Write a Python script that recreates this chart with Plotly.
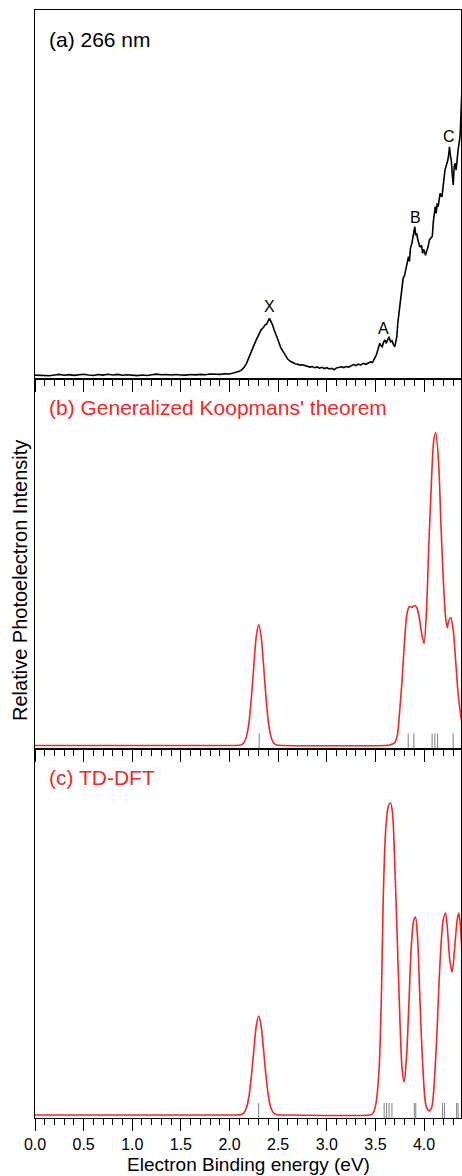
import plotly.graph_objects as go

# ---------------- data ----------------
# (a) experimental photoelectron spectrum, 266 nm (arbitrary units)
exp_energy = [0.00, 0.05, 0.10, 0.15, 0.20, 0.25, 0.30, 0.35, 0.40, 0.45, 0.50, 0.55, 0.60, 0.65,
              0.70, 0.75, 0.80, 0.85, 0.90, 0.95, 1.00, 1.05, 1.10, 1.15, 1.20, 1.25, 1.30, 1.35,
              1.40, 1.45, 1.50, 1.55, 1.60, 1.65, 1.70, 1.75, 1.80, 1.85, 1.90, 1.95, 2.00,
              2.04, 2.075, 2.10, 2.125, 2.15, 2.175, 2.20, 2.225, 2.25, 2.275, 2.30, 2.325, 2.35,
              2.365, 2.38, 2.395, 2.41, 2.425, 2.44, 2.46, 2.48, 2.50, 2.525, 2.55, 2.575, 2.60,
              2.625, 2.65, 2.675, 2.70, 2.725, 2.75, 2.775, 2.80, 2.825, 2.85, 2.875, 2.90, 2.925,
              2.95, 2.975, 3.00, 3.025, 3.05, 3.075, 3.10, 3.125, 3.15, 3.175, 3.20, 3.225, 3.25,
              3.275, 3.30, 3.325, 3.35, 3.375, 3.40, 3.425, 3.45, 3.47, 3.49, 3.51, 3.53, 3.545,
              3.555, 3.57, 3.585, 3.60, 3.61, 3.625, 3.64, 3.655, 3.67, 3.685, 3.70, 3.71, 3.72,
              3.73, 3.745, 3.76, 3.775, 3.785, 3.80, 3.815, 3.83, 3.84, 3.85, 3.86, 3.875, 3.885,
              3.895, 3.905, 3.915, 3.925, 3.935, 3.945, 3.955, 3.965, 3.975, 3.985, 3.995, 4.005,
              4.015, 4.025, 4.04, 4.055, 4.07, 4.085, 4.095, 4.105, 4.115, 4.125, 4.135, 4.145,
              4.155, 4.165, 4.175, 4.185, 4.195, 4.205, 4.215, 4.225, 4.235, 4.245, 4.255, 4.262,
              4.27, 4.28, 4.29, 4.30, 4.31, 4.32, 4.33, 4.34, 4.35, 4.36, 4.37, 4.375, 4.38,
              4.385, 4.39]
exp_signal = [4.2, 4.0, 4.3, 3.6, 4.4, 4.9, 4.1, 4.7, 4.0, 4.6, 5.1, 4.3, 3.9, 4.8,
              4.2, 5.0, 4.4, 4.9, 4.1, 4.6, 4.0, 3.7, 4.3, 3.9, 4.5, 5.2, 4.6, 4.9,
              4.3, 4.8, 4.4, 4.2, 4.9, 4.5, 5.0, 4.6, 5.3, 4.9, 5.0, 5.6, 5.4,
              6.3, 7.0, 8.0, 9.5, 12.0, 16.0, 22.5, 28.0, 34.0, 39.5, 45.0, 49.5, 52.0,
              54.5, 55.0, 58.5, 61.0, 58.0, 55.0, 49.0, 43.0, 39.0, 32.0, 27.5, 23.0, 20.0,
              18.0, 16.5, 15.5, 15.0, 14.2, 14.5, 13.6, 13.0, 12.2, 12.8, 11.6, 12.4, 11.2,
              12.0, 10.8, 11.6, 10.4, 11.0, 9.6, 11.4, 12.0, 12.6, 11.8, 12.8, 12.2, 13.6,
              14.8, 13.8, 15.2, 14.4, 16.0, 15.0, 16.6, 17.4, 16.8, 21.0, 24.5, 31.0, 36.0,
              34.0, 32.6, 37.5, 39.3, 36.0, 40.5, 42.6, 37.5, 38.5, 35.0, 32.6, 38.0, 42.6,
              56.0, 69.0, 78.0, 96.0, 101.0, 104.0, 110.0, 119.0, 122.6, 118.0, 131.0, 136.0, 141.0,
              146.0, 152.6, 144.0, 146.0, 140.0, 134.3, 133.0, 132.6, 134.0, 126.0, 130.0, 127.6,
              124.0, 127.6, 132.0, 139.3, 141.0, 143.0, 157.0, 166.0, 172.6, 166.0, 176.0, 172.6,
              183.0, 186.0, 183.5, 182.6, 192.0, 205.0, 209.0, 212.6, 216.0, 219.3, 226.0, 232.6,
              224.0, 219.3, 205.0, 194.3, 213.0, 216.0, 209.3, 222.0, 229.3, 236.0, 242.6, 252.6, 272.0,
              289.3, 291.0]

# (b) Generalized Koopmans' theorem, broadened spectrum
gkt_energy = [0.00, 2.05, 2.10, 2.125, 2.15, 2.175, 2.20, 2.225, 2.25, 2.275, 2.30, 2.325, 2.35,
              2.375, 2.40, 2.425, 2.45, 2.475, 2.50, 2.55, 3.60, 3.65, 3.675, 3.70, 3.725, 3.75,
              3.775, 3.80, 3.825, 3.85, 3.875, 3.90, 3.925, 3.95, 3.975, 4.00, 4.025, 4.05, 4.075,
              4.10, 4.12, 4.15, 4.175, 4.20, 4.225, 4.24, 4.25, 4.275, 4.30, 4.325, 4.35, 4.375, 4.39]
gkt_intensity = [0, 0, 0.2, 0.8, 2.9, 9.1, 23, 48, 80, 109, 121, 109, 80,
                 48, 23, 9.1, 2.9, 0.8, 0.2, 0, 0, 0.5, 1.5, 3, 10, 35,
                 67, 105, 132, 139, 138, 140, 138, 128, 112, 102, 135, 202, 262,
                 305, 313, 282, 218, 162, 125, 118, 123, 128, 115, 85, 52, 32, 22]
gkt_sticks = [2.305, 3.837, 3.895, 4.083, 4.111, 4.139, 4.299]

# (c) TD-DFT, broadened spectrum
tddft_energy = [0.00, 2.05, 2.10, 2.125, 2.15, 2.175, 2.20, 2.225, 2.25, 2.275, 2.30, 2.325, 2.35,
                2.375, 2.40, 2.425, 2.45, 2.475, 2.50, 2.55, 3.44, 3.47, 3.49, 3.511, 3.539, 3.563,
                3.58, 3.604, 3.631, 3.655, 3.676, 3.70, 3.724, 3.751, 3.775, 3.796, 3.82, 3.847,
                3.871, 3.895, 3.912, 3.933, 3.957, 3.984, 4.015, 4.04, 4.06, 4.08, 4.094, 4.128,
                4.162, 4.197, 4.221, 4.241, 4.265, 4.289, 4.313, 4.341, 4.358, 4.375, 4.388]
tddft_intensity = [0, 0, 0.1, 0.6, 2.4, 7.5, 19, 39, 65, 89, 99, 89, 65,
                   39, 19, 7.5, 2.4, 0.6, 0.1, 0, 0, 1, 5, 15, 48, 125,
                   215, 282, 308, 312, 302, 248, 178, 98, 45, 33, 58, 118,
                   172, 195, 198, 178, 118, 55, 12, 5, 4, 8, 18, 72,
                   148, 195, 202, 185, 155, 143, 165, 195, 202, 188, 165]
tddft_sticks = [2.30, 3.59, 3.615, 3.64, 3.67, 3.90, 3.915, 4.19, 4.21, 4.335, 4.35]

peak_labels = ["X", "A", "B", "C"]
peak_label_energy = [2.409, 3.581, 3.907, 4.259]
peak_label_signal = [72.6, 51.0, 162.0, 243.3]

x_tick_vals = [0.0, 0.5, 1.0, 1.5, 2.0, 2.5, 3.0, 3.5, 4.0]
x_tick_text = ["0.0", "0.5", "1.0", "1.5", "2.0", "2.5", "3.0", "3.5", "4.0"]

# ---------------- style ----------------
FONT = "Arial, Liberation Sans, Helvetica, sans-serif"
RED = "#f02828"
STICK_TOP = 12

def sticks_xy(energies, base):
    xs, ys = [], []
    for e in energies:
        xs += [e, e, None]
        ys += [base, STICK_TOP, None]
    return xs, ys

fig = go.Figure()

fig.add_trace(go.Scatter(x=exp_energy, y=exp_signal, mode="lines",
                         line=dict(color="black", width=1.6),
                         xaxis="x", yaxis="y", showlegend=False, hoverinfo="skip"))

sx, sy = sticks_xy(gkt_sticks, -3.2)
fig.add_trace(go.Scatter(x=sx, y=sy, mode="lines", line=dict(color="#808080", width=1),
                         xaxis="x2", yaxis="y2", showlegend=False, hoverinfo="skip"))
fig.add_trace(go.Scatter(x=gkt_energy, y=gkt_intensity, mode="lines",
                         line=dict(color=RED, width=1.6, shape="spline", smoothing=0.8),
                         xaxis="x2", yaxis="y2", showlegend=False))

sx, sy = sticks_xy(tddft_sticks, -3.0)
fig.add_trace(go.Scatter(x=sx, y=sy, mode="lines", line=dict(color="#808080", width=1),
                         xaxis="x3", yaxis="y3", showlegend=False, hoverinfo="skip"))
fig.add_trace(go.Scatter(x=tddft_energy, y=tddft_intensity, mode="lines",
                         line=dict(color=RED, width=1.6, shape="spline", smoothing=0.8),
                         xaxis="x3", yaxis="y3", showlegend=False))

def xaxis_cfg(anchor, labels):
    return dict(range=[0, 4.38], anchor=anchor, showline=True, linecolor="black", linewidth=1,
                mirror=True, showgrid=False, zeroline=False,
                tickmode="array", tickvals=x_tick_vals, ticktext=x_tick_text,
                ticks="outside", ticklen=12, tickwidth=1, tickcolor="black",
                minor=dict(dtick=0.1, ticks="outside", ticklen=6, tickwidth=1, tickcolor="black", showgrid=False),
                showticklabels=labels, tickfont=dict(family=FONT, size=16, color="black"))

def yaxis_cfg(anchor, dom, rng):
    return dict(domain=dom, range=rng, anchor=anchor, showline=True, linecolor="black", linewidth=1,
                mirror=True, showgrid=False, zeroline=False, ticks="", showticklabels=False)

fig.update_layout(
    width=462, height=1176,
    margin=dict(l=35, r=1, t=10, b=58),
    paper_bgcolor="white", plot_bgcolor="white",
    font=dict(family=FONT, color="black"),
    xaxis=xaxis_cfg("y", False),
    xaxis2=xaxis_cfg("y2", False),
    xaxis3=xaxis_cfg("y3", True),
    yaxis=yaxis_cfg("x", [2/3, 1], [0, 369.3]),
    yaxis2=yaxis_cfg("x2", [1/3, 2/3], [-3.2, 366.1]),
    yaxis3=yaxis_cfg("x3", [0, 1/3], [-3.0, 366.3]),
)

ann = []
ann.append(dict(text="(a) 266 nm", x=0.028, y=0.9738, xref="paper", yref="paper",
                xanchor="left", yanchor="middle", showarrow=False,
                font=dict(family=FONT, size=21, color="black")))
ann.append(dict(text="(b) Generalized Koopmans' theorem", x=0.028, y=0.6408, xref="paper", yref="paper",
                xanchor="left", yanchor="middle", showarrow=False,
                font=dict(family=FONT, size=21, color=RED)))
ann.append(dict(text="(c) TD-DFT", x=0.028, y=0.3069, xref="paper", yref="paper",
                xanchor="left", yanchor="middle", showarrow=False,
                font=dict(family=FONT, size=21, color=RED)))
for t, xe, ye in zip(peak_labels, peak_label_energy, peak_label_signal):
    ann.append(dict(text=t, x=xe, y=ye, xref="x", yref="y", xanchor="center", yanchor="middle",
                    showarrow=False, font=dict(family=FONT, size=16, color="black")))
ann.append(dict(text="Relative Photoelectron Intensity", x=-0.0352, y=0.4847, xref="paper", yref="paper",
                xanchor="center", yanchor="middle", textangle=-90, showarrow=False,
                font=dict(family=FONT, size=20, color="black")))
ann.append(dict(text="Electron Binding energy (eV)", x=0.501, y=-0.0424, xref="paper", yref="paper",
                xanchor="center", yanchor="middle", showarrow=False,
                font=dict(family=FONT, size=19, color="black")))
fig.update_layout(annotations=ann)

page_fix = ("var s=document.createElement('style');"
            "s.innerHTML='html,body{margin:0;padding:0;overflow:hidden;}';"
            "document.head.appendChild(s);")
fig.write_html("out.html", post_script=page_fix, config={"displayModeBar": False})
